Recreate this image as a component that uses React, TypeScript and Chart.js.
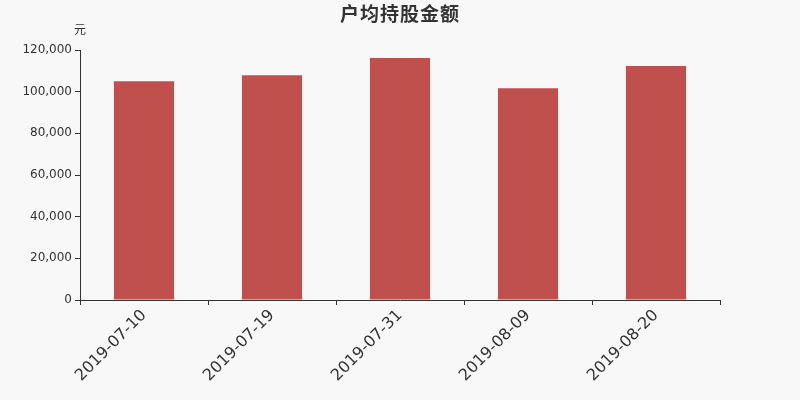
import { useEffect, useRef } from "react"
import { Chart, type ChartConfiguration, type Plugin, registerables } from "chart.js"

Chart.register(...registerables)

const title = "户均持股金额"
const unit = "元"
const dates = ["2019-07-10", "2019-07-19", "2019-07-31", "2019-08-09", "2019-08-20"]
const amounts = [105000, 107900, 116200, 101600, 112300]
const yTicks = [0, 20000, 40000, 60000, 80000, 100000, 120000]

const BG = "#f8f8f8"
const TEXT = "#333333"
const BAR = "#c0504d"

export default function App() {
  const chartRef = useRef<HTMLCanvasElement>(null)
  const chartInstanceRef = useRef<Chart | null>(null)

  useEffect(() => {
    if (!chartRef.current) return
    const ctx = chartRef.current.getContext("2d")
    if (!ctx) return

    if (chartInstanceRef.current) {
      chartInstanceRef.current.destroy()
    }

    // background, title and unit label
    const decor: Plugin<"bar"> = {
      id: "decor",
      beforeDraw: (chart) => {
        const c = chart.ctx
        c.save()
        c.fillStyle = BG
        c.fillRect(0, 0, chart.width, chart.height)
        c.restore()
      },
      afterDraw: (chart) => {
        const c = chart.ctx
        c.save()
        c.fillStyle = TEXT
        c.textAlign = "center"
        c.textBaseline = "middle"
        c.font = "bold 19px 'Noto Sans CJK SC', sans-serif"
        ;(c as any).letterSpacing = "1px"
        c.fillText(title, 400, 14)
        ;(c as any).letterSpacing = "0px"
        c.font = "12px 'Noto Sans CJK SC', sans-serif"
        c.fillText(unit, 80, 29)
        c.restore()
      },
    }

    const config: ChartConfiguration<"bar"> = {
      type: "bar",
      data: {
        labels: dates,
        datasets: [
          {
            label: title,
            data: amounts,
            backgroundColor: BAR,
            borderWidth: 0,
            barPercentage: 0.47,
            categoryPercentage: 1,
          },
        ],
      },
      options: {
        animation: false,
        responsive: false,
        layout: {
          padding: { top: 50, right: 80, left: 0, bottom: 0 },
        },
        plugins: {
          legend: { display: false },
          tooltip: { enabled: false },
          title: { display: false },
        },
        scales: {
          x: {
            grid: {
              display: true,
              drawOnChartArea: false,
              drawTicks: true,
              tickLength: 5,
              color: TEXT,
              offset: true,
            },
            border: { display: true, color: TEXT, width: 1 },
            ticks: {
              color: TEXT,
              font: { family: "'DejaVu Sans', sans-serif", size: 16 },
              minRotation: 45,
              maxRotation: 45,
              padding: 1,
              autoSkip: false,
            },
            afterFit: (scale) => {
              scale.height = 100
            },
          },
          y: {
            min: 0,
            max: 120000,
            afterBuildTicks: (scale) => {
              scale.ticks = yTicks.map((v) => ({ value: v }))
            },
            grid: {
              display: true,
              drawOnChartArea: false,
              drawTicks: true,
              tickLength: 5,
              color: TEXT,
            },
            border: { display: true, color: TEXT, width: 1 },
            ticks: {
              color: TEXT,
              font: { family: "'DejaVu Sans', sans-serif", size: 12 },
              padding: 3,
              callback: (value) => Number(value).toLocaleString("en-US"),
            },
            afterFit: (scale) => {
              scale.width = 80
            },
          },
        },
      },
      plugins: [decor],
    }

    chartInstanceRef.current = new Chart(ctx, config)

    return () => {
      if (chartInstanceRef.current) {
        chartInstanceRef.current.destroy()
        chartInstanceRef.current = null
      }
    }
  }, [])

  return (
    <div style={{ position: "absolute", left: 0, top: 0, width: 800, height: 400 }}>
      <canvas ref={chartRef} width={800} height={400} style={{ width: 800, height: 400 }} />
    </div>
  )
}
